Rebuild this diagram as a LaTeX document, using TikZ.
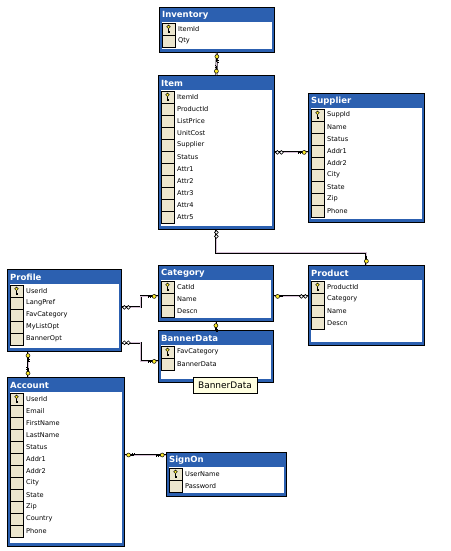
\documentclass[tikz,border=0pt]{standalone}
\usepackage{fontspec}
\setmainfont{DejaVu Sans}
\usetikzlibrary{calc,positioning}
\definecolor{tblblue}{RGB}{44,96,176}
\definecolor{rowtan}{RGB}{236,230,206}
\definecolor{linkpink}{RGB}{214,192,214}
\definecolor{keyyel}{RGB}{250,232,40}
\definecolor{tipyel}{RGB}{255,255,225}

% one table: name, left, top, width, height, title, fields
\newcommand{\dbtable}[7]{%
  \node[tbl,minimum width=#4pt,minimum height=#5pt,anchor=north west] (#1) at (#2,#3) {};
  \fill[white] ($(#1.north west)+(3,15)$) rectangle ($(#1.south east)+(-3,-4)$);
  \node[ttl] at ($(#1.north west)+(3,8.5)$) {#6};
  \foreach \r [count=\i from 0] in {#7} {
    \draw[rowbox] ($(#1.north west)+(3,16+12*\i)$) rectangle ++(13,12);
    \node[fld] at ($(#1.north west)+(19,22+12*\i)$) {\r};
  }
  \pic at ($(#1.north west)+(9.5,22)$) {pkey};
}

\begin{document}
\begin{tikzpicture}[x=1pt,y=-1pt,
    tbl/.style={draw=black,line width=0.8pt,fill=tblblue,inner sep=0pt},
    ttl/.style={anchor=west,inner sep=0pt,text=white,font=\bfseries\fontsize{8.5}{9}\selectfont},
    fld/.style={anchor=west,inner sep=0pt,font=\fontsize{6.6}{7}\selectfont},
    rowbox/.style={draw=black,line width=0.6pt,fill=rowtan},
    link/.style={draw=black,line width=0.55pt,double=linkpink,double distance=0.9pt},
    tip/.style={draw=black,line width=0.5pt,fill=tipyel,inner sep=1.5pt,
      minimum width=64pt,minimum height=16pt,font=\fontsize{9}{10}\selectfont},
    pkey/.pic={\draw[fill=keyyel,line width=0.4pt] (0,-2.2) circle (1.8);
      \draw[line width=0.8pt] (0,-0.4) -- (0,3.8) (0,2.2) -- (1.6,2.2) (0,3.6) -- (1.6,3.6);},
    keyend/.pic={\draw[line width=0.9pt] (-5.5,0) -- (-9.5,0) (-7.5,0) -- (-7.5,1.6) (-9.2,0) -- (-9.2,1.6);
      \draw[fill=keyyel,line width=0.5pt] (-3.8,0) circle (2);},
    manyend/.pic={\draw[fill=white,line width=0.6pt] (-2.6,0) circle (1.9) (-6.6,0) circle (1.9);}]
  \useasboundingbox (0,0) rectangle (450,551);

  \dbtable{inv}{159}{7}{115}{45}{Inventory}{ItemId,Qty}
  \dbtable{item}{158}{75}{116}{154}{Item}{ItemId,ProductId,ListPrice,UnitCost,Supplier,Status,Attr1,Attr2,Attr3,Attr4,Attr5}
  \dbtable{supp}{308}{93}{116}{129}{Supplier}{SuppId,Name,Status,Addr1,Addr2,City,State,Zip,Phone}
  \dbtable{prof}{7}{269}{114}{82}{Profile}{UserId,LangPref,FavCategory,MyListOpt,BannerOpt}
  \dbtable{cat}{158}{265}{115}{56}{Category}{CatId,Name,Descn}
  \dbtable{ban}{158}{330}{115}{52}{BannerData}{FavCategory,BannerData}
  \dbtable{prod}{308}{265}{116}{80}{Product}{ProductId,Category,Name,Descn}
  \dbtable{acct}{7}{377}{117}{169}{Account}{UserId,Email,FirstName,LastName,Status,Addr1,Addr2,City,State,Zip,Country,Phone}
  \dbtable{sign}{166}{452}{120}{44}{SignOn}{UserName,Password}

  % link end points
  \coordinate (pc) at ([yshift=3pt]prof.east);
  \coordinate (cp) at ([yshift=-3pt]cat.west);
  \coordinate (pb) at ([yshift=9pt]prof.south east);
  \coordinate (bp) at ([yshift=-5pt]ban.west);
  \coordinate (cr) at ([yshift=-3pt]cat.east);
  \coordinate (pa) at ([xshift=21pt]prof.south west);
  \coordinate (ap) at ([xshift=21pt]acct.north west);
  \coordinate (sa) at ([yshift=-3pt]sign.north west);

  \draw[link] (inv.south) -- (item.north);
  \draw[link] (item.east) -- (item.east -| supp.west);
  \draw[link] (item.south) -- ++(0,23) -| (prod.north);
  \draw[link] (pc) -- ++(19,0) |- (cp);
  \draw[link] (pb) -- ++(19,0) |- (bp);
  \draw[link] (cr) -- (cr -| prod.west);
  \draw[link] (cat.south) -- (ban.north);
  \draw[link] (pa) -- (ap);
  \draw[link] (sa) -- (sa -| acct.east);

  \pic[rotate=90] at (inv.south) {keyend};
  \pic[rotate=-90] at (item.north) {keyend};
  \pic[rotate=180] at (item.east) {manyend};
  \pic at (item.east -| supp.west) {keyend};
  \pic[rotate=90] at (item.south) {manyend};
  \pic[rotate=-90] at (prod.north) {keyend};
  \pic[rotate=180] at (pc) {manyend};
  \pic at (cp) {keyend};
  \pic[rotate=180] at (pb) {manyend};
  \pic at (bp) {keyend};
  \pic[rotate=180] at (cr) {keyend};
  \pic at (cr -| prod.west) {manyend};
  \pic[rotate=90] at (cat.south) {keyend};
  \pic[rotate=90] at (pa) {keyend};
  \pic[rotate=-90] at (ap) {keyend};
  \pic at (sa) {keyend};
  \pic[rotate=180] at (sa -| acct.east) {keyend};

  \node[tip] (bantip) at (225,385) {BannerData};
\end{tikzpicture}
\end{document}
